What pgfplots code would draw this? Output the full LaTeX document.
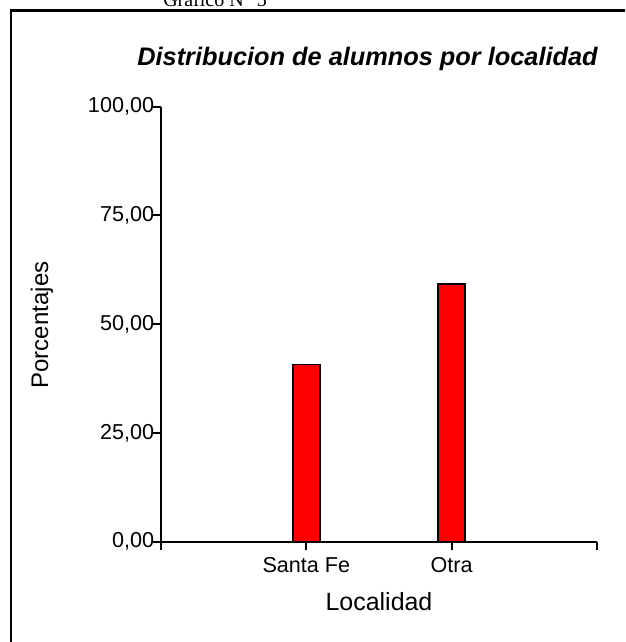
\documentclass[border=0pt]{standalone}
\usepackage{fontspec}
\setmainfont{Liberation Sans}
\newfontfamily\timesf{Liberation Serif}
\usepackage{pgfplots}
\pgfplotsset{compat=1.18}
\begin{document}
\begin{tikzpicture}
\useasboundingbox (0,0) rectangle (468.75pt,-481.5pt);
\begin{scope}[x=0.75pt,y=-0.75pt]
\clip (0,0) rectangle (625,642);
\draw[line width=2pt] (11,700) -- (11,10.5) -- (700,10.5);
\node[anchor=base west,inner sep=0pt,font=\timesf\fontsize{15}{18}\selectfont] at (163,7) {Gráfico N° 5};
\node[anchor=base,inner sep=0pt,font=\bfseries\itshape\fontsize{19}{22}\selectfont] at (367.5,65) {Distribucion de alumnos por localidad};
\node[rotate=90,inner sep=0pt,font=\fontsize{18}{21}\selectfont] at (42,325) {Porcentajes};
\node[anchor=base,inner sep=0pt,font=\fontsize{18.7}{22}\selectfont] at (379,610.7) {Localidad};
\end{scope}
\begin{axis}[
  at={(120.75pt,-406.3pt)}, anchor=south west,
  scale only axis, width=327pt, height=326.25pt,
  xmin=0, xmax=3, ymin=0, ymax=100,
  axis x line=bottom, axis y line=left,
  axis line style={-, line width=1.5pt, black},
  tick align=outside, major tick length=6pt,
  tick style={line width=1.5pt, black},
  xtick={0,1,2,3}, xticklabels={{},{Santa Fe},{Otra},{}},
  ytick={0,25,50,75,100},
  yticklabels={{0,00},{25,00},{50,00},{75,00},{100,00}},
  ticklabel style={font=\fontsize{16.2}{19}\selectfont},
  yticklabel style={inner xsep=0pt, xshift=1pt},
  xticklabel style={yshift=-2pt},
  clip=false,
]
\addplot[ybar, bar width=20.25pt, fill=red, draw=black, line width=1.2pt] coordinates {(1,40.74) (2,59.26)};
\end{axis}
\end{tikzpicture}
\end{document}
